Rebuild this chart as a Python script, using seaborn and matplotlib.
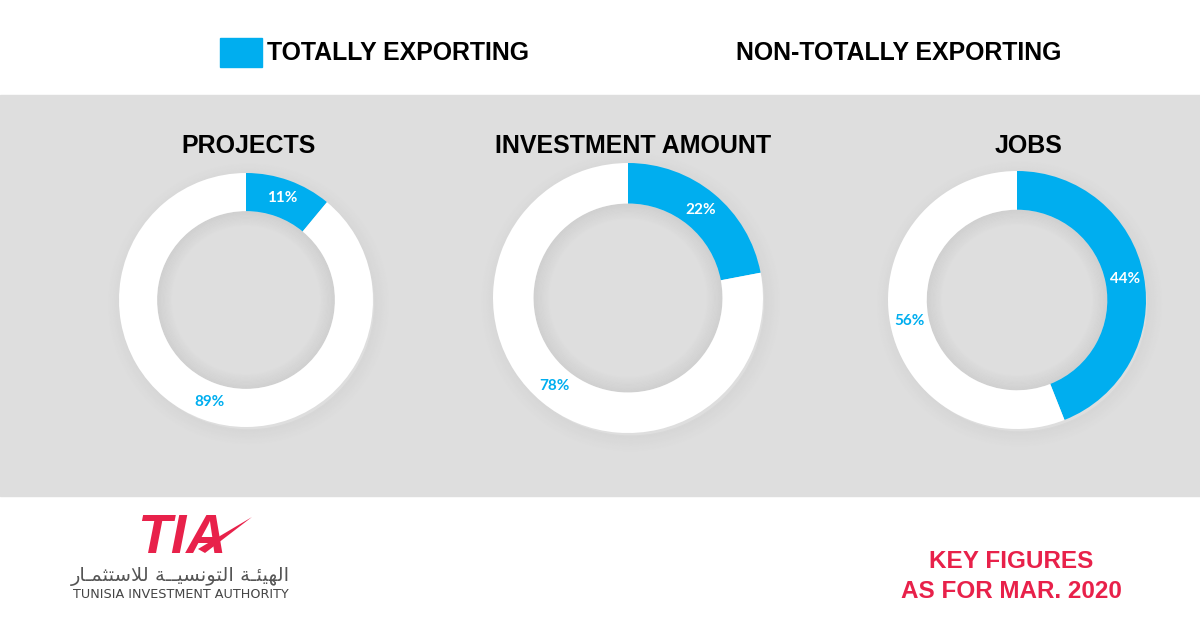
import matplotlib
matplotlib.use("Agg")
import matplotlib.pyplot as plt
import seaborn as sns
from matplotlib.patches import Wedge, Rectangle, Polygon

# chart data
groups = ["PROJECTS", "INVESTMENT AMOUNT", "JOBS"]
totally_exporting = [11, 22, 44]
non_totally_exporting = [89, 78, 56]
legend_labels = ["TOTALLY EXPORTING", "NON-TOTALLY EXPORTING"]

BLUE = "#00AEEF"
RED = "#E8214A"
BAND = "#DEDEDE"

sns.set_theme(style="white")
plt.rcParams["font.family"] = ["Liberation Sans", "DejaVu Sans"]

W, H = 1200, 628
fig = plt.figure(figsize=(W / 100, H / 100), dpi=100)
fig.patch.set_facecolor("white")

# background axes in pixel coordinates
bg = fig.add_axes([0, 0, 1, 1])
bg.set_xlim(0, W)
bg.set_ylim(H, 0)
bg.axis("off")
bg.axhspan(95, 496, color=BAND, zorder=0)

# legend row
bg.add_patch(Rectangle((220, 38), 42, 29, color=BLUE, zorder=2))
bg.text(267, 53, legend_labels[0], fontsize=17.9, fontweight="bold",
        ha="left", va="center", color="black")
bg.text(899, 53, legend_labels[1], fontsize=17.9, fontweight="bold",
        ha="center", va="center", color="black")

# donut geometry (centre x, centre y, outer radius) in pixels
centres = [(246, 300, 127), (628, 298, 135), (1017, 300, 129)]
title_x = [249, 633, 1029]
PAD = 1.15

for i, name in enumerate(groups):
    cx, cy, r = centres[i]
    bg.text(title_x[i], 146, name, fontsize=18, fontweight="bold",
            ha="center", va="center", color="black")

    side = 2 * r * PAD
    ax = fig.add_axes([(cx - r * PAD) / W, (H - cy - r * PAD) / H, side / W, side / H])
    ax.set_facecolor("none")

    # soft outer shadow
    for k in range(10):
        ax.add_patch(Wedge((0.02, -0.03), 1.0 + k * 0.012, 0, 360, width=0.012,
                           color="black", alpha=0.03 * (1 - k / 10), lw=0, zorder=0))
    # inner shading of the hole
    for k in range(12):
        rad = 0.70 - k * 0.01
        ax.add_patch(Wedge((0, 0), rad, 0, 360, width=0.01,
                           color="black", alpha=0.06 * (1 - k / 12), lw=0, zorder=1))

    wedges, texts, autotexts = ax.pie(
        [totally_exporting[i], non_totally_exporting[i]],
        colors=[BLUE, "white"], startangle=90, counterclock=False,
        wedgeprops=dict(width=0.30, edgecolor="none"),
        autopct="%.0f%%", pctdistance=0.85,
        textprops=dict(fontsize=11, fontweight="bold", family=["Lato", "DejaVu Sans"]),
    )
    for w in wedges:
        w.set_zorder(3)
    autotexts[0].set_color("white")
    autotexts[1].set_color(BLUE)
    for t in autotexts:
        t.set_zorder(4)
    ax.set_xlim(-PAD, PAD)
    ax.set_ylim(-PAD, PAD)
    ax.set_aspect("equal")
    ax.axis("off")

# key figures note
bg.text(1011, 561, "KEY FIGURES", fontsize=17.5, fontweight="bold",
        ha="center", va="center", color=RED)
bg.text(1011, 592, "AS FOR MAR. 2020", fontsize=17.5, fontweight="bold",
        ha="center", va="center", color=RED)

# logo
bg.text(137, 553, "TIA", fontsize=40, fontweight="bold", fontstyle="italic",
        ha="left", va="baseline", color=RED)
bg.add_patch(Polygon([(198, 549), (252, 517), (205, 553)], color=RED, lw=0, zorder=3))

# Arabic name in presentation forms, visual order
word1 = "\uFE8D\uFEDF\uFEEC\uFEF4\uFE8C\u0640\uFE94"
word2 = "\uFE8D\uFEDF\uFE98\uFEEE\uFEE7\uFEB4\uFEF4\u0640\u0640\uFE94"
word3 = "\uFEDF\uFEFC\uFEB3\uFE98\uFE9C\uFEE4\u0640\uFE8E\uFEAD"
arabic = word3[::-1] + " " + word2[::-1] + " " + word1[::-1]
bg.text(180, 576, arabic, fontsize=14, ha="center", va="center",
        color="#555555", family=["DejaVu Sans"])
bg.text(181, 595, "TUNISIA INVESTMENT AUTHORITY", fontsize=9.2, ha="center",
        va="center", color="#444444", family=["DejaVu Sans"])

fig.savefig("out.png", dpi=100, facecolor="white")
